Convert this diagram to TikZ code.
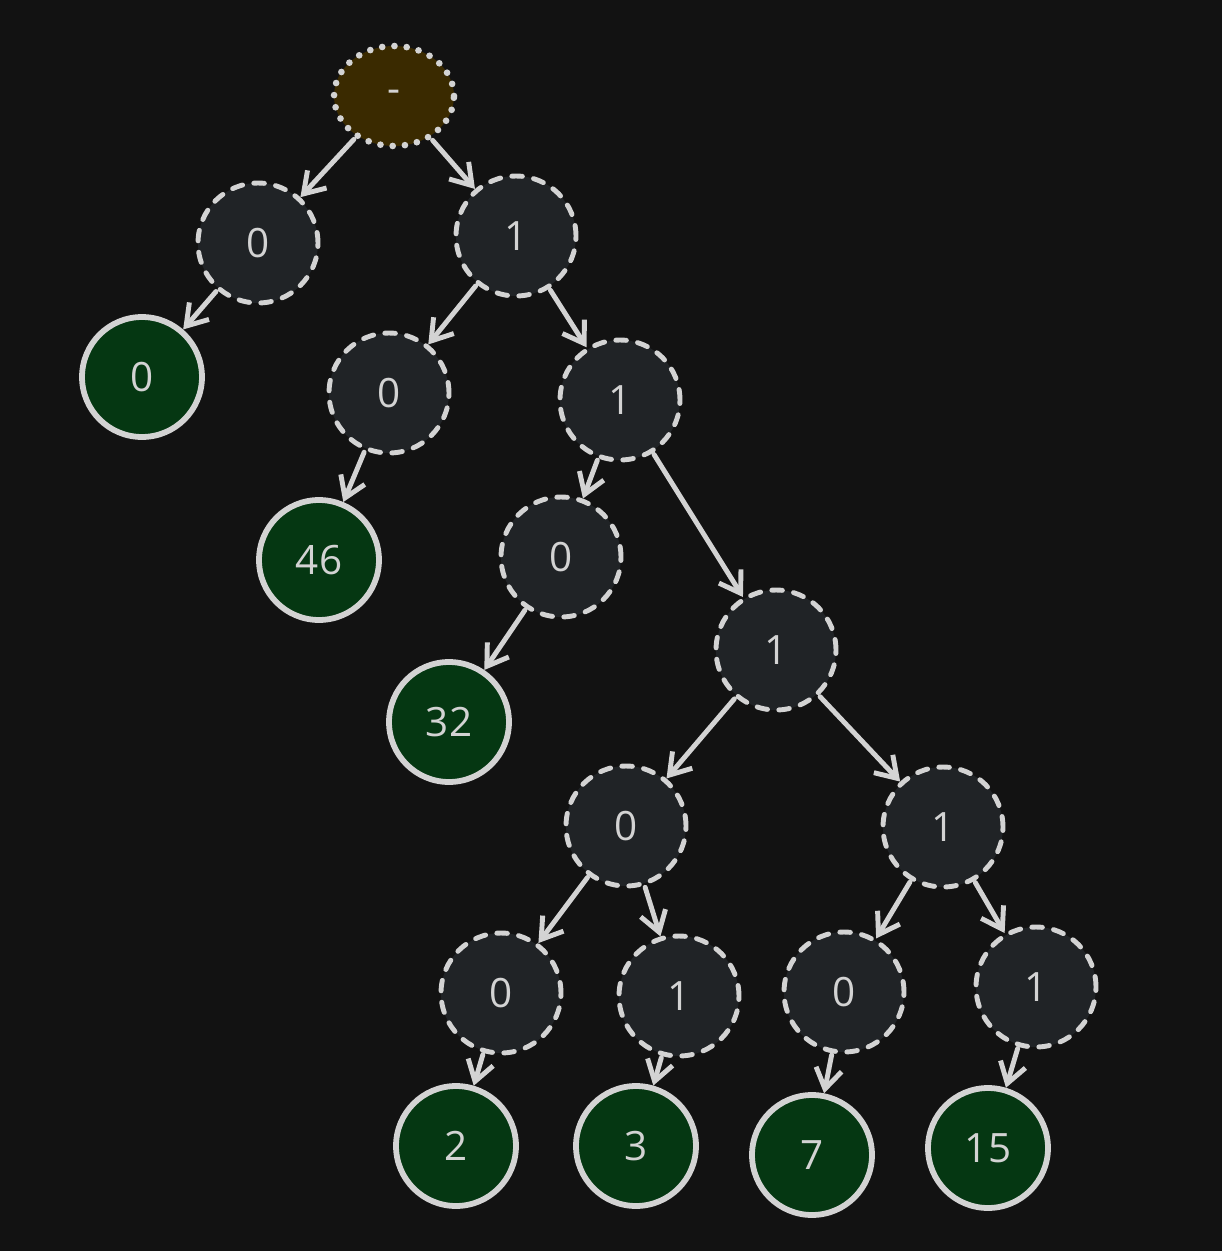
\documentclass[tikz,border=0pt]{standalone}
\usepackage{fontspec}
\setmainfont{Open Sans}
\usepackage{tikz}
\usetikzlibrary{arrows.meta,backgrounds,shapes.geometric}
\definecolor{bgdark}{HTML}{121212}
\definecolor{edgegray}{HTML}{D3D3D3}
\definecolor{bitfill}{HTML}{202326}
\definecolor{leaffill}{HTML}{053712}
\definecolor{rootfill}{HTML}{3A2A00}

\begin{document}
\begin{tikzpicture}[x=0.02cm,y=-0.02cm,
  font=\fontsize{23}{27}\selectfont,
  bit/.style={circle,draw=edgegray,fill=bitfill,line cap=round,dash pattern=on 6pt off 6.5pt,line width=2.8pt,minimum size=2.4cm,text=edgegray},
  leaf/.style={circle,draw=edgegray,fill=leaffill,line width=3.3pt,minimum size=2.4cm,text=edgegray},
  rootbox/.style={ellipse,draw=edgegray,fill=rootfill,line cap=round,dash pattern=on 0pt off 7pt,line width=3.8pt,minimum width=2.4cm,minimum height=2cm,text=edgegray},
  edge/.style={draw=edgegray,line width=2.8pt,line cap=round,shorten <=1pt,-{Straight Barb[length=0.4cm,width=0.52cm,line width=2.8pt]}}]
\fill[bgdark] (0,0) rectangle (1222,1251);
\useasboundingbox (0,0) rectangle (1222,1251);
% trie nodes
\node[rootbox] (r) at (394,96) {-};
\node[bit] (a0) at (258,243) {0};
\node[bit] (a1) at (516,236) {1};
\node[leaf] (l0) at (142,377) {0};
\node[bit] (b0) at (389,393) {0};
\node[bit] (b1) at (620,400) {1};
\node[leaf] (l46) at (319,560) {46};
\node[bit] (c0) at (561,557) {0};
\node[bit] (c1) at (776,650) {1};
\node[leaf] (l32) at (449,722) {32};
\node[bit] (d0) at (626,826) {0};
\node[bit] (d1) at (943,827) {1};
\node[bit] (e0) at (501,993) {0};
\node[bit] (e1) at (679,996) {1};
\node[bit] (e2) at (844,992) {0};
\node[bit] (e3) at (1036,987) {1};
\node[leaf] (l2) at (456,1146) {2};
\node[leaf] (l3) at (636,1146) {3};
\node[leaf] (l7) at (812,1155) {7};
\node[leaf] (l15) at (988,1148) {15};
% edges
\draw[edge] (r) -- (a0);
\draw[edge] (r) -- (a1);
\draw[edge] (a0) -- (l0);
\draw[edge] (a1) -- (b0);
\draw[edge] (a1) -- (b1);
\draw[edge] (b0) -- (l46);
\draw[edge] (b1) -- (c0);
\draw[edge] (b1) -- (c1);
\draw[edge] (c0) -- (l32);
\draw[edge] (c1) -- (d0);
\draw[edge] (c1) -- (d1);
\draw[edge] (d0) -- (e0);
\draw[edge] (d0) -- (e1);
\draw[edge] (d1) -- (e2);
\draw[edge] (d1) -- (e3);
\draw[edge] (e0) -- (l2);
\draw[edge] (e1) -- (l3);
\draw[edge] (e2) -- (l7);
\draw[edge] (e3) -- (l15);
\end{tikzpicture}
\end{document}
